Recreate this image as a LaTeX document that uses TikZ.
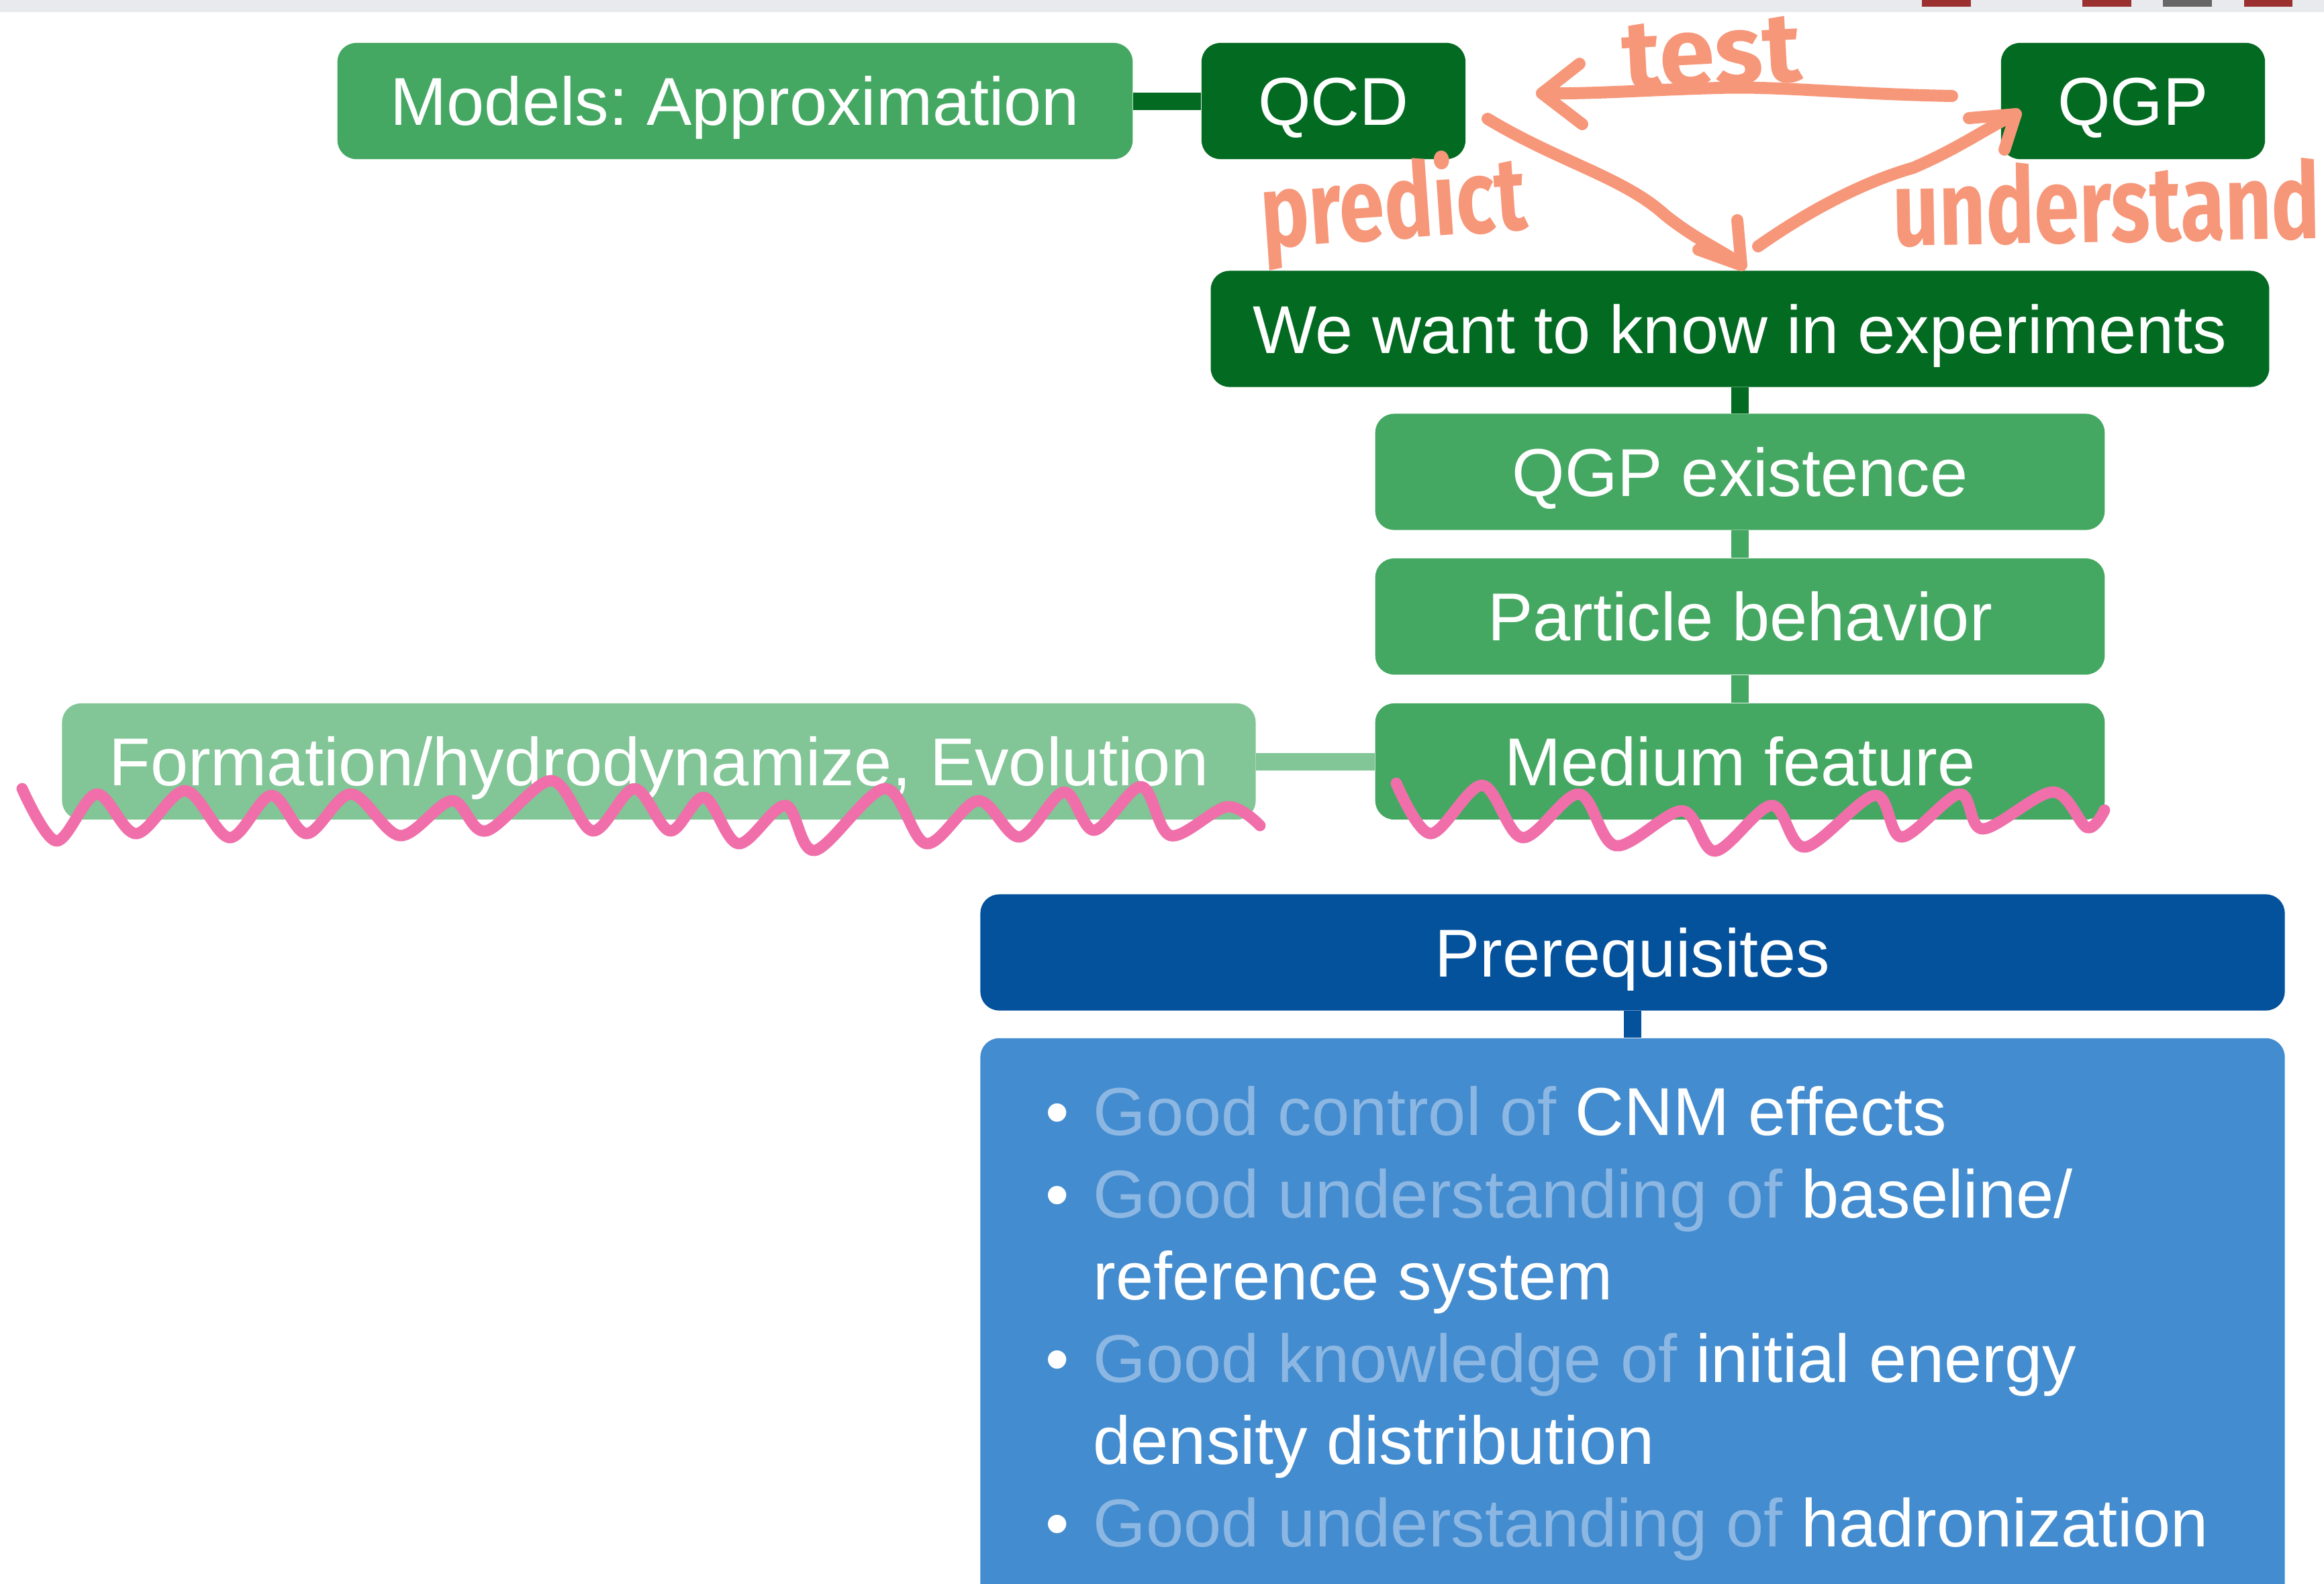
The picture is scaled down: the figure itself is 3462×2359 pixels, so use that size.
\documentclass[tikz,border=0pt]{standalone}
\usepackage{fontspec}
\setmainfont{Liberation Sans}
\newfontfamily\handfont{Fira Sans}
\definecolor{midgreen}{HTML}{45A862}
\definecolor{darkgreen}{HTML}{036A21}
\definecolor{lightgreen}{HTML}{82C596}
\definecolor{darkblue}{HTML}{04519C}
\definecolor{listblue}{HTML}{438CCF}
\definecolor{fade}{HTML}{8DB7E3}
\definecolor{salmon}{HTML}{F7977A}
\definecolor{marker}{HTML}{F06FAA}
\definecolor{barbg}{HTML}{E9EAEE}
\definecolor{tabred}{HTML}{9B3030}
\definecolor{tabgray}{HTML}{666666}
\frenchspacing
\begin{document}
\begin{tikzpicture}[x=0.01cm,y=-0.01cm,
  box/.style={rounded corners=0.28cm, inner sep=0pt, text=white,
    font=\fontsize{28.7}{34}\selectfont, text height=0.72cm, text depth=0cm,
    minimum height=1.73cm},
  line/.style={font=\fontsize{28.7}{34}\selectfont, text=white, inner sep=0pt, anchor=base west},
  link/.style={line width=7.4pt},
  hand/.style={text=salmon, inner sep=0pt},
  pen/.style={draw=salmon, line width=5.1pt, line cap=round, line join=round},
  wave/.style={draw=marker, line width=4.8pt, line cap=round, line join=round}
]
\useasboundingbox (0,0) rectangle (3462,2359);
\clip (0,0) rectangle (3462,2359);

% top strip
\fill[barbg] (0,0) rectangle (3462,18);
\fill[tabred] (2863,0) rectangle (2936,10);
\fill[tabred] (3102,0) rectangle (3175,10);
\fill[tabgray] (3222,0) rectangle (3295,10);
\fill[tabred] (3343,0) rectangle (3415,10);

% boxes
\node[box, fill=midgreen, minimum width=11.84cm] (models) at (1095,150.5) {Models: Approximation};
\node[box, fill=darkgreen, minimum width=3.93cm] (qcd) at (1986.5,150.5) {QCD};
\node[box, fill=darkgreen, minimum width=3.93cm] (qgp) at (3177.5,150.5) {QGP};
\node[box, fill=darkgreen, minimum width=15.76cm] (want) at (2592,490) {We want to know in experiments};
\node[box, fill=midgreen, minimum width=10.86cm] (exist) at (2592,703) {QGP existence};
\node[box, fill=midgreen, minimum width=10.86cm] (partic) at (2592,918.5) {Particle behavior};
\node[box, fill=midgreen, minimum width=10.86cm] (medium) at (2592,1134.5) {Medium feature};
\node[box, fill=lightgreen, minimum width=17.77cm] (form) at (981.5,1134.5) {Formation/hydrodynamize, Evolution};
\node[box, fill=darkblue, minimum width=19.42cm] (prereq) at (2432,1419) {Prerequisites};
\node[rounded corners=0.28cm, fill=listblue, inner sep=0pt, minimum width=19.42cm, minimum height=8.73cm] (list) at (2432,1983.5) {};

% connectors
\draw[link, darkgreen] (models.east) -- (qcd.west);
\draw[link, darkgreen] (want.south) -- (exist.north);
\draw[link, midgreen] (exist.south) -- (partic.north);
\draw[link, midgreen] (partic.south) -- (medium.north);
\draw[link, lightgreen] (form.east) -- (medium.west);
\draw[link, darkblue] (prereq.south) -- (list.north);

% bullet list
\foreach \n/\yy in {b1/1691, b2/1814, b3/2059, b4/2304}
  \node[line] (\n) at (1557,\yy) {\textbullet};
\node[line] (l1) at (1628,1691) {\textcolor{fade}{Good control of }CNM effects};
\node[line] (l2) at (1628,1814) {\textcolor{fade}{Good understanding of }baseline/};
\node[line] (l3) at (1628,1936) {reference system};
\node[line] (l4) at (1628,2059) {\textcolor{fade}{Good knowledge of }initial energy};
\node[line] (l5) at (1628,2181) {density distribution};
\node[line] (l6) at (1628,2304) {\textcolor{fade}{Good understanding of }hadronization};

% hand-written notes
\node[hand, rotate=4] (predict) at (2076,310) {\resizebox*{3.96cm}{1.6cm}{\handfont\bfseries predict}};
\node[hand, rotate=3] (test) at (2550,80) {\resizebox*{2.66cm}{1.0cm}{\handfont\bfseries test}};
\node[hand, rotate=1] (understand) at (3138,302) {\resizebox*{6.36cm}{1.23cm}{\handfont\bfseries understand}};

% hand-drawn arrows
\coordinate (tA) at (2908,143);
\coordinate (tB) at (2297,139);
\draw[pen] (tA) .. controls (2750,140) and (2650,128) .. (2560,131) .. controls (2450,134) and (2380,140) .. (tB);
\draw[pen] (2353,95) -- (tB) -- (2357,185);

\coordinate (pA) at (2216,177);
\coordinate (pB) at (2594,395);
\draw[pen] (pA) .. controls (2320,240) and (2420,265) .. (2480,320) .. controls (2530,360) and (2570,375) .. (pB);
\draw[pen] (2588,328) -- (pB) -- (2530,372);

\coordinate (uA) at (2619,367);
\coordinate (uB) at (3003,170);
\draw[pen] (uA) .. controls (2700,310) and (2780,270) .. (2850,250) .. controls (2920,220) and (2960,190) .. (uB);
\draw[pen] (2933,176) -- (uB) -- (2986,223);

% marker underlines
\draw[wave] plot[smooth, tension=0.55] coordinates {
 (33,1175) (84,1253) (144,1183) (203,1242) (276,1178) (342,1248) (404,1185)
 (457,1242) (523,1183) (596,1245) (673,1193) (724,1238) (821,1163) (883,1238)
 (945,1175) (998,1238) (1049,1188) (1100,1257) (1170,1200) (1214,1267) (1318,1175)
 (1380,1257) (1457,1193) (1519,1247) (1585,1180) (1630,1237) (1700,1172) (1744,1245)
 (1828,1202) (1877,1230)};
\draw[wave] plot[smooth, tension=0.55] coordinates {
 (2080,1167) (2131,1242) (2208,1170) (2268,1248) (2352,1183) (2407,1260)
 (2506,1208) (2555,1268) (2639,1200) (2689,1262) (2793,1185) (2833,1247)
 (2919,1183) (2954,1235) (3058,1180) (3109,1233) (3135,1207)};
\end{tikzpicture}
\end{document}
